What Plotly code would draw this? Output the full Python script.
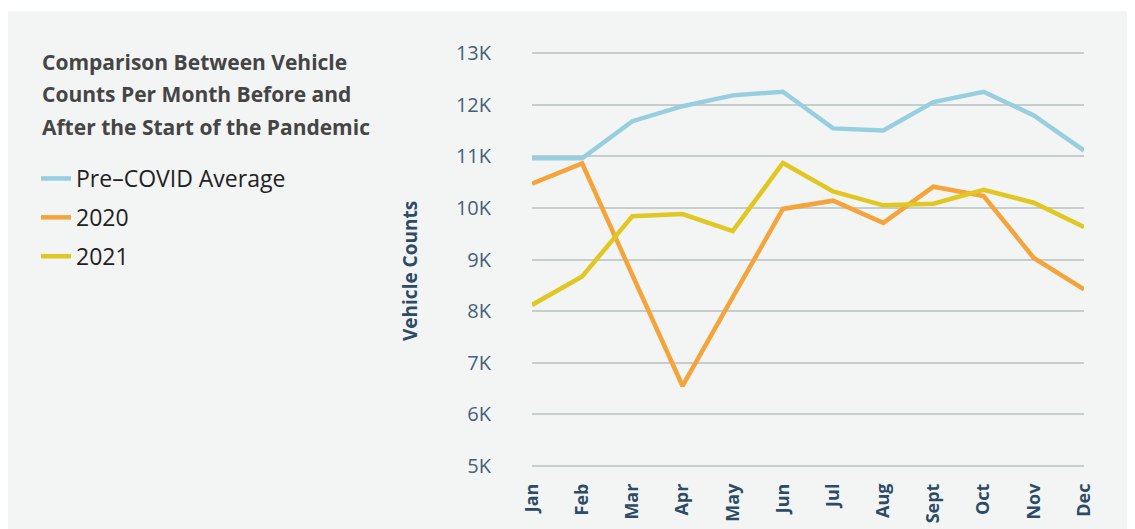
import plotly.graph_objects as go

months = ["Jan", "Feb", "Mar", "Apr", "May", "Jun", "Jul", "Aug", "Sept", "Oct", "Nov", "Dec"]
pre_covid = [10960, 10960, 11680, 11970, 12180, 12250, 11540, 11500, 12050, 12250, 11790, 11110]
y2020 = [10470, 10860, 8700, 6550, 8270, 9980, 10140, 9710, 10410, 10230, 9030, 8420]
y2021 = [8120, 8670, 9840, 9880, 9550, 10870, 10320, 10050, 10080, 10350, 10100, 9630]

series_names = ["Pre\u2013COVID Average", "2020", "2021"]
series_colors = ["#97cfe0", "#f4a43a", "#e1c722"]

ytick_vals = [5000, 6000, 7000, 8000, 9000, 10000, 11000, 12000, 13000]
ytick_text = ["5K", "6K", "7K", "8K", "9K", "10K", "11K", "12K", "13K"]

title_lines = ["Comparison Between Vehicle", "Counts Per Month Before and", "After the Start of the Pandemic"]

# page has an 8px body margin; figure is sized so it fits the 1135x529 window
OFF = 8
W, H = 1135 - OFF, 529 - OFF
L, R, T, B = 524, 51, 44, 62
pw, ph = W - L - R, H - T - B

def px_x(px):
    return (px - OFF - L) / pw

def px_y(py):
    return (H - B - (py - OFF)) / ph

fig = go.Figure()
for name, vals, col in zip(series_names, [pre_covid, y2020, y2021], series_colors):
    fig.add_trace(go.Scatter(x=months, y=vals, mode="lines", name=name,
                             legendgroup=name,
                             line=dict(color=col, width=4.5)))

fig.add_shape(type="rect", xref="paper", yref="paper",
              x0=px_x(6), x1=px_x(1140), y0=px_y(540), y1=px_y(11),
              fillcolor="#f3f5f4", line=dict(width=0), layer="below")

for txt, cy in zip(title_lines, [62, 94, 127]):
    fig.add_annotation(text="<b>" + txt + "</b>", xref="paper", yref="paper",
                       x=px_x(40), y=px_y(cy), xanchor="left", yanchor="middle",
                       showarrow=False,
                       font=dict(family="Open Sans", size=21, color="#454545"))

fig.add_annotation(text="<b>Vehicle Counts</b>", xref="paper", yref="paper",
                   x=px_x(410), y=px_y(271), textangle=-90,
                   xanchor="center", yanchor="middle", showarrow=False,
                   font=dict(family="Open Sans", size=19, color="#2d4b66"))

fig.update_layout(
    width=W, height=H,
    margin=dict(l=L, r=R, t=T, b=B, autoexpand=False),
    paper_bgcolor="white", plot_bgcolor="rgba(0,0,0,0)",
    legend=dict(x=px_x(36), y=px_y(157), xanchor="left", yanchor="top",
                font=dict(family="Open Sans", size=23, color="#222222"),
                bgcolor="rgba(0,0,0,0)", tracegroupgap=6),
    showlegend=True,
)
fig.update_xaxes(range=[0, 11], showgrid=False, zeroline=False, showline=False,
                 automargin=False,
                 tickangle=-90, ticks="", ticklabelstandoff=12,
                 tickfont=dict(family="Open Sans", size=18, color="#2b4b66", weight="bold"))
fig.update_yaxes(range=[4980, 13020], tickvals=ytick_vals, ticktext=ytick_text,
                 automargin=False,
                 showgrid=True, gridcolor="#c6cdcd", gridwidth=1.5, zeroline=False,
                 showline=False, ticks="", ticklabelstandoff=40,
                 tickfont=dict(family="Open Sans", size=20, color="#46607a"))

fig.write_html("out.html")
